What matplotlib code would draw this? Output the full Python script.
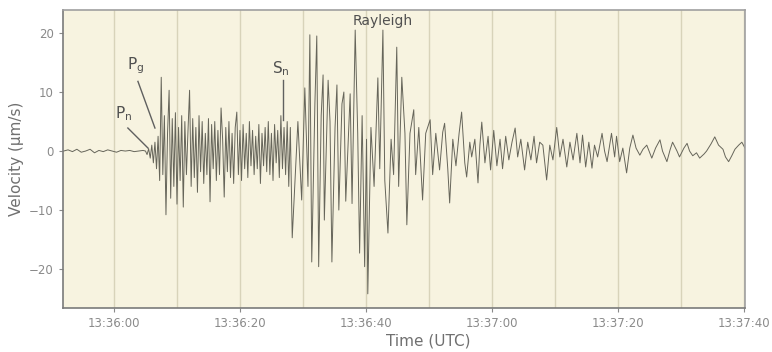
import matplotlib
matplotlib.use("Agg")
import matplotlib.pyplot as plt
import numpy as np

# time in seconds after 13:36:00 UTC, velocity in um/s
t_pre = [-8.0, -7.3, -6.6, -5.9, -5.2, -4.5, -3.8, -3.1, -2.4, -1.7, -1.0, -0.3,
         0.4, 1.1, 1.8, 2.5, 3.2, 3.9, 4.6]
v_pre = [0.0, 0.2, -0.1, 0.3, -0.2, 0.0, 0.3, -0.3, 0.1, -0.1, 0.2, 0.0,
         -0.2, 0.1, 0.0, 0.1, -0.1, 0.0, 0.1]

t_body = [5.0, 5.25, 5.5, 5.75, 6.0, 6.25, 6.5, 6.75, 7.0, 7.25, 7.5, 7.75,
          8.0, 8.25, 8.5, 8.75, 9.0, 9.25, 9.5, 9.75, 10.0, 10.25, 10.5, 10.75,
          11.0, 11.25, 11.5, 11.75, 12.0, 12.25, 12.5, 12.75, 13.0, 13.25, 13.5, 13.75,
          14.0, 14.25, 14.5, 14.75, 15.0, 15.25, 15.5, 15.75, 16.0, 16.25, 16.5, 16.75,
          17.0, 17.25, 17.5, 17.75, 18.0, 18.25, 18.5, 18.75, 19.0, 19.25, 19.5, 19.75,
          20.0, 20.25, 20.5, 20.75, 21.0, 21.25, 21.5, 21.75, 22.0, 22.25, 22.5, 22.75,
          23.0, 23.25, 23.5, 23.75, 24.0, 24.25, 24.5, 24.75, 25.0, 25.25, 25.5, 25.75,
          26.0, 26.25, 26.5, 26.75, 27.0, 27.25, 27.5, 27.75, 28.0]
v_body = [0.0, -0.6, 0.4, -1.2, 1.0, -2.0, 1.5, -3.0, 2.5, -5.0, 12.5, -4.0,
          6.0, -10.8, 3.0, 10.3, -8.0, 5.5, -6.0, 6.5, -9.0, 4.0, -5.0, 6.0,
          -9.5, 5.0, -4.0, 3.5, 10.3, -6.0, 5.5, -4.5, 4.0, -7.0, 6.0, -3.5,
          5.0, -5.5, 3.0, -4.0, 5.5, -8.6, 4.5, -3.0, 5.0, -5.0, 3.5, -4.0,
          7.3, 2.0, -7.8, 4.0, -3.5, 5.0, -4.5, 3.0, -5.5, 4.0, 6.6, -4.0,
          3.5, -5.0, 4.5, -3.0, 3.0, -4.5, 5.0, -2.5, 3.5, -4.0, 2.5, -3.0,
          4.5, -5.5, 3.0, -2.5, 4.0, -3.5, 5.0, -4.0, 3.0, -5.0, 4.5, -2.0,
          3.5, -4.5, 6.0, -3.0, 4.0, -4.0, 5.0, -6.0, 4.0]

t_ray = [28.3, 29.2, 29.8, 30.3, 30.8, 31.1, 31.4, 31.9, 32.2, 32.5, 32.9, 33.2,
         33.4, 34.0, 34.3, 34.6, 35.1, 35.4, 35.7, 36.2, 36.5, 36.8, 37.5, 37.8,
         38.3, 38.7, 39.0, 39.4, 39.8, 40.1, 40.3, 40.8, 41.3, 41.9, 42.2, 42.7,
         43.0, 43.5, 44.0, 44.4, 44.9, 45.2, 45.7, 46.2, 46.5]
v_ray = [-14.7, 5.0, -8.3, 10.7, -6.0, 19.7, -18.8, 8.0, 19.5, -19.6, 6.0, 12.9,
         -11.7, 12.0, 5.0, -18.8, 4.0, 11.2, -10.0, 8.0, 10.0, -8.5, 9.7, -8.9,
         20.5, 3.0, -17.3, 6.0, -19.6, 2.0, -24.2, 4.0, -6.0, 12.4, -3.0, 20.5,
         -5.0, -13.9, 2.0, -4.0, 17.6, -6.0, 12.5, 3.0, -12.5]

t_coda = [47.0, 47.6, 47.9, 48.4, 49.0, 49.5, 50.2, 50.6, 51.1, 51.7, 52.2, 52.5,
          53.0, 53.3, 53.8, 54.3, 54.8, 55.2, 55.7, 56.0, 56.5, 56.8, 57.3, 57.8,
          58.1, 58.4, 58.9, 59.4, 59.8, 60.3, 60.8, 61.3, 61.7, 62.2, 62.7, 63.2,
          63.7, 64.1, 64.6, 65.2, 65.7, 66.2, 66.7, 67.1, 67.6, 68.1, 68.7, 69.2,
          69.7, 70.3, 70.8, 71.3, 71.9, 72.4, 72.9, 73.5, 74.0, 74.4, 74.9, 75.4,
          75.9, 76.3, 76.8, 77.5, 77.9, 78.3, 78.7, 79.0, 79.5, 79.8, 80.3, 80.8,
          81.4, 81.9, 82.4, 82.9, 83.5, 84.0, 84.6, 85.4, 86.0, 86.7, 87.1, 87.8,
          88.3, 88.7, 89.4, 89.8, 90.5, 91.0, 91.4, 91.9, 92.5, 93.0, 93.7, 94.1,
          94.8, 95.4, 96.0, 96.7, 97.1, 97.6, 98.1, 98.6, 99.2, 99.7, 100.2]
v_coda = [3.0, 7.0, -4.0, 4.0, -8.3, 3.0, 5.3, -4.0, 3.0, -3.2, 3.2, 4.7,
          -3.0, -8.8, 2.0, -2.5, 3.0, 6.6, -2.0, -4.4, 1.5, -1.0, 2.0, -5.4,
          1.0, 4.9, -2.0, 2.5, -3.2, 3.5, -2.5, 2.0, -3.0, 2.5, -1.5, 1.5,
          3.9, -1.0, 2.0, -3.2, 1.5, -1.5, 2.5, -2.0, 1.5, 1.0, -4.9, 1.0,
          -1.5, 4.0, -1.0, 2.0, -2.7, 1.5, -1.5, 3.0, -2.0, 2.7, -2.7, 1.5,
          -2.9, 1.0, -1.0, 3.0, 0.0, -1.8, 1.0, 3.0, -1.0, 2.5, -1.8, 0.5,
          -3.7, 0.5, 2.7, 0.5, -0.7, 0.3, 1.0, -1.2, 0.5, 1.9, 0.0, -1.8,
          0.2, 1.5, 0.0, -1.0, 0.5, 1.3, 0.0, -0.8, -0.3, -1.2, -0.5, 0.0,
          1.2, 2.4, 1.0, 0.3, -1.0, -1.8, -0.8, 0.3, 1.0, 1.5, 0.5]

xtick_pos = [0, 20, 40, 60, 80, 100]
xtick_labels = ["13:36:00", "13:36:20", "13:36:40", "13:37:00", "13:37:20", "13:37:40"]
ytick_pos = [-20, -10, 0, 10, 20]

t = np.array(t_pre + t_body + t_ray + t_coda)
v = np.array(v_pre + v_body + v_ray + v_coda)

plt.rcParams['font.family'] = ['DejaVu Sans']

fig = plt.figure(figsize=(7.72, 3.52), dpi=100)
ax = fig.add_axes([63/772, 44/352, 682/772, 298/352])
ax.set_facecolor("#f7f3e0")

for g in range(0, 101, 10):
    ax.axvline(g, color="#d8d3ba", lw=1.0, zorder=0)

ax.plot(t, v, color="#66655a", lw=0.7, zorder=2)

ax.set_xlim(-8.1, 100.2)
ax.set_ylim(-26.6, 23.9)
ax.set_xticks(xtick_pos)
ax.set_xticklabels(xtick_labels)
ax.set_yticks(ytick_pos)
ax.tick_params(axis="both", colors="#8a8a8a", labelsize=8.5, length=3, width=0.8,
               direction="out")
for s in ["top", "right"]:
    ax.spines[s].set_color("#a0a0a0")
    ax.spines[s].set_linewidth(1.2)
for s in ["left", "bottom"]:
    ax.spines[s].set_color("#7a7a7a")
    ax.spines[s].set_linewidth(1.2)

ax.set_ylabel("Velocity (\u00b5m/s)", fontsize=11, color="#707070", labelpad=4)
ax.set_xlabel("Time (UTC)", fontsize=11, color="#707070")
ax.xaxis.set_label_coords((428 - 63) / 682, -0.085)

tc = "#505050"
ax.text(42.7, 22.0, "Rayleigh", ha="center", va="center", fontsize=10, color=tc)
ax.text(26.5, 14.0, r"$\mathregular{S_n}$", ha="center", va="center", fontsize=11, color=tc)
ax.plot([26.8, 26.8], [12.0, 5.3], color="#606060", lw=1.0)
ax.text(3.5, 14.5, r"$\mathregular{P_g}$", ha="center", va="center", fontsize=11, color=tc)
ax.plot([3.8, 6.5], [11.8, 3.9], color="#606060", lw=1.0)
ax.text(1.6, 6.3, r"$\mathregular{P_n}$", ha="center", va="center", fontsize=11, color=tc)
ax.plot([2.2, 5.4], [3.9, 0.5], color="#606060", lw=1.0)

fig.savefig("out.png", dpi=100)
